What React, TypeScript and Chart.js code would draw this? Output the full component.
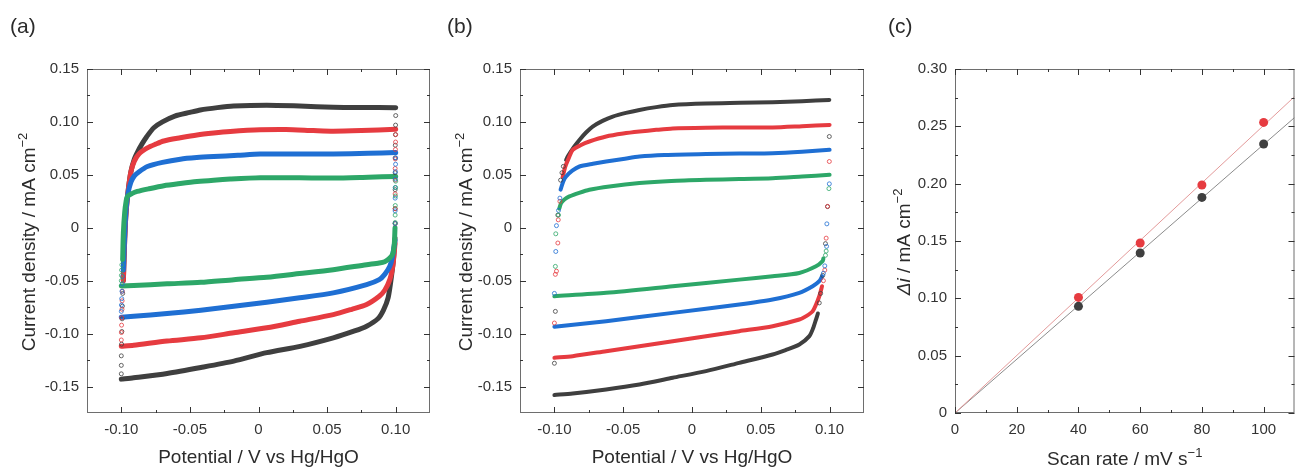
import React, { useEffect, useRef } from 'react';
import { Chart, registerables } from 'chart.js';

Chart.register(...registerables);

const FONT = '"Liberation Sans", Arial, Helvetica, sans-serif';
const TEXT_COLOR = '#2b2b2b';
const TICK_COLOR = '#333333';
const FRAME_COLOR = '#6e6e6e';

const COL_BLACK = '#3f3f3f';
const COL_RED = '#e63b40';
const COL_BLUE = '#1f6fd3';
const COL_GREEN = '#2da768';

// ---------- Panel (a) ----------
const A_BLACK_UP = [[-0.0985,-0.05],[-0.0975,-0.01],[-0.0965,0.015],[-0.095,0.035],[-0.093,0.053],[-0.0905,0.065],[-0.088,0.072],[-0.085,0.079],[-0.0815,0.086],[-0.0763,0.0945],[-0.07,0.1],[-0.061,0.1055],[-0.05,0.109],[-0.0424,0.1113],[-0.03,0.1135],[-0.0182,0.115],[0.006,0.1158],[0.03,0.115],[0.0545,0.1139],[0.075,0.1136],[0.1,0.1135]];
const A_RED_UP = [[-0.0985,-0.05],[-0.0975,-0.01],[-0.0965,0.015],[-0.095,0.035],[-0.093,0.053],[-0.0905,0.063],[-0.087,0.07],[-0.081,0.0755],[-0.075,0.079],[-0.069,0.082],[-0.057,0.085],[-0.0448,0.0877],[-0.0327,0.0895],[-0.0206,0.0909],[0.0012,0.0925],[0.02,0.0928],[0.04,0.0918],[0.0545,0.0912],[0.075,0.0918],[0.1,0.0931]];
const A_BLUE_UP = [[-0.0985,-0.04],[-0.0975,-0.005],[-0.0965,0.018],[-0.095,0.033],[-0.093,0.043],[-0.0905,0.049],[-0.087,0.053],[-0.081,0.0579],[-0.07,0.0618],[-0.057,0.0648],[-0.045,0.0663],[-0.0327,0.0673],[-0.015,0.0685],[0.0012,0.0696],[0.03,0.0697],[0.0545,0.0698],[0.08,0.0703],[0.1,0.0711]];
const A_GREEN_UP = [[-0.099,-0.03],[-0.0985,-0.005],[-0.0975,0.015],[-0.0965,0.025],[-0.0956,0.0296],[-0.092,0.0325],[-0.0884,0.0343],[-0.08,0.0368],[-0.069,0.0397],[-0.057,0.0418],[-0.0448,0.0437],[-0.0327,0.045],[-0.0206,0.046],[0.0012,0.0472],[0.03,0.0472],[0.0545,0.047],[0.08,0.0478],[0.1,0.0485]];

const A_BLACK_DOWN = [[0.0995,-0.01],[0.0985,-0.028],[0.097,-0.045],[0.0945,-0.066],[0.091,-0.078],[0.087,-0.086],[0.0788,-0.093],[0.07,-0.0975],[0.0545,-0.104],[0.0303,-0.112],[0.006,-0.118],[-0.018,-0.126],[-0.042,-0.132],[-0.0666,-0.1376],[-0.091,-0.1417],[-0.1,-0.143]];
const A_RED_DOWN = [[0.0995,-0.015],[0.098,-0.035],[0.0957,-0.049],[0.092,-0.059],[0.088,-0.0647],[0.0788,-0.0725],[0.068,-0.077],[0.0545,-0.082],[0.03,-0.0883],[0.006,-0.0945],[-0.018,-0.0992],[-0.042,-0.104],[-0.0666,-0.107],[-0.091,-0.111],[-0.1,-0.112]];
const A_BLUE_DOWN = [[0.0995,-0.012],[0.0975,-0.028],[0.0957,-0.0364],[0.092,-0.044],[0.088,-0.049],[0.0788,-0.0537],[0.0545,-0.0615],[0.03,-0.0662],[0.006,-0.0703],[-0.018,-0.0741],[-0.042,-0.0779],[-0.0666,-0.0811],[-0.091,-0.0836],[-0.1,-0.0845]];
const A_GREEN_DOWN = [[0.0995,0.0],[0.099,-0.015],[0.098,-0.024],[0.0957,-0.0286],[0.092,-0.032],[0.088,-0.0333],[0.0788,-0.0349],[0.0545,-0.0396],[0.03,-0.0433],[0.006,-0.0468],[-0.018,-0.049],[-0.042,-0.0515],[-0.0666,-0.053],[-0.091,-0.0546],[-0.1,-0.055]];

const A_BLACK_DOTS = [[-0.1,-0.138],[-0.1,-0.13],[-0.1,-0.121],[-0.0998,-0.11],[-0.0996,-0.098],[-0.0994,-0.086],[-0.0992,-0.074],[-0.099,-0.062],[0.1,0.106],[0.0999,0.097],[0.0998,0.088],[0.0997,0.078],[0.0996,0.066],[0.0996,0.052],[0.0996,0.036],[0.0996,0.018],[0.0996,0.004]];
const A_RED_DOTS = [[-0.1,-0.106],[-0.0999,-0.099],[-0.0998,-0.092],[-0.0997,-0.085],[-0.0995,-0.077],[-0.0994,-0.069],[-0.0992,-0.06],[0.1,0.088],[0.0999,0.081],[0.0998,0.074],[0.0997,0.065],[0.0996,0.056],[0.0996,0.045],[0.0996,0.032],[0.0996,0.018],[0.0996,0.004]];
const A_BLUE_DOTS = [[-0.1,-0.079],[-0.0999,-0.073],[-0.0997,-0.067],[-0.0995,-0.06],[-0.0993,-0.053],[-0.0991,-0.046],[0.1,0.066],[0.0999,0.06],[0.0998,0.053],[0.0997,0.046],[0.0996,0.038],[0.0996,0.028],[0.0996,0.016],[0.0996,0.004]];
const A_GREEN_DOTS = [[-0.1,-0.05],[-0.0999,-0.045],[-0.0998,-0.04],[-0.0996,-0.035],[0.1,0.044],[0.0999,0.038],[0.0998,0.03],[0.0997,0.021],[0.0996,0.012],[0.0996,0.005]];

// ---------- Panel (b) ----------
const B_BLACK_UP = [[-0.0915,0.064],[-0.0903,0.0673],[-0.086,0.076],[-0.0818,0.083],[-0.077,0.09],[-0.0722,0.0956],[-0.065,0.101],[-0.0576,0.105],[-0.048,0.1085],[-0.0382,0.1113],[-0.026,0.114],[-0.014,0.116],[0.0102,0.1174],[0.035,0.118],[0.0586,0.1186],[0.08,0.1195],[0.0998,0.1208]];
const B_RED_UP = [[-0.094,0.048],[-0.092,0.058],[-0.0895,0.066],[-0.0867,0.0736],[-0.081,0.078],[-0.0746,0.0815],[-0.0624,0.0862],[-0.05,0.089],[-0.0382,0.0909],[-0.026,0.0925],[-0.014,0.0938],[0.01,0.0945],[0.0344,0.0947],[0.0586,0.0948],[0.08,0.096],[0.1,0.0972]];
const B_BLUE_UP = [[-0.0955,0.036],[-0.0935,0.044],[-0.0915,0.0485],[-0.087,0.054],[-0.0818,0.0579],[-0.072,0.0605],[-0.0624,0.0626],[-0.05,0.065],[-0.0382,0.0673],[-0.02,0.0688],[0.0102,0.0698],[0.0344,0.0702],[0.0586,0.0705],[0.08,0.0718],[0.1,0.0736]];
const B_GREEN_UP = [[-0.0965,0.018],[-0.0951,0.0233],[-0.0925,0.027],[-0.0891,0.0296],[-0.082,0.033],[-0.0746,0.0359],[-0.06,0.039],[-0.0382,0.0422],[-0.015,0.0442],[0.0102,0.0453],[0.0344,0.046],[0.0586,0.0469],[0.08,0.0485],[0.1,0.05]];

const B_BLACK_DOWN = [[0.0915,-0.081],[0.0901,-0.0867],[0.088,-0.095],[0.0853,-0.1024],[0.078,-0.1103],[0.068,-0.1155],[0.0586,-0.1197],[0.0344,-0.1276],[0.0102,-0.1354],[-0.014,-0.1417],[-0.0382,-0.148],[-0.0624,-0.1527],[-0.0867,-0.1565],[-0.1,-0.158]];
const B_RED_DOWN = [[0.0945,-0.0553],[0.0925,-0.0647],[0.09,-0.073],[0.0877,-0.0789],[0.083,-0.0835],[0.078,-0.0867],[0.0586,-0.093],[0.0344,-0.0977],[0.0102,-0.1024],[-0.014,-0.1072],[-0.0382,-0.1119],[-0.0624,-0.1166],[-0.0867,-0.1213],[-0.1,-0.1228]];
const B_BLUE_DOWN = [[0.0945,-0.046],[0.0925,-0.0505],[0.0877,-0.0553],[0.078,-0.0615],[0.0586,-0.0678],[0.0344,-0.0725],[-0.014,-0.0804],[-0.0624,-0.0883],[-0.1,-0.0936]];
const B_GREEN_DOWN = [[0.0955,-0.029],[0.0949,-0.0315],[0.0901,-0.0364],[0.078,-0.0427],[0.0586,-0.0459],[0.0344,-0.049],[-0.014,-0.0553],[-0.0624,-0.0615],[-0.1,-0.0647]];

const B_BLACK_DOTS = [[-0.1,-0.128],[-0.0993,-0.079],[-0.0975,0.012],[-0.0955,0.045],[-0.0945,0.052],[-0.0935,0.058],[0.0998,0.0862],[0.0985,0.02],[0.097,-0.015],[0.095,-0.045],[0.0935,-0.062],[0.0925,-0.071]];
const B_RED_DOTS = [[-0.1,-0.09],[-0.0993,-0.044],[-0.0985,-0.041],[-0.0975,-0.0144],[-0.0972,0.0075],[-0.096,0.025],[0.0998,0.0626],[0.0985,0.0202],[0.0975,-0.0098],[0.0965,-0.04],[0.0955,-0.05]];
const B_BLUE_DOTS = [[-0.1,-0.062],[-0.099,-0.0224],[-0.0985,0.002],[-0.097,0.0164],[-0.096,0.028],[0.0998,0.0415],[0.098,0.0037],[0.0978,-0.0176],[0.0965,-0.036],[0.0955,-0.043]];
const B_GREEN_DOTS = [[-0.0993,-0.0365],[-0.099,-0.0057],[-0.097,0.012],[0.0995,0.037],[0.0975,-0.022],[0.097,-0.026]];

// ---------- Panel (c) ----------
const C_SCAN_RATE = [40, 60, 80, 100];
const C_RED_DI = [0.1008, 0.1483, 0.1988, 0.2534];
const C_BLACK_DI = [0.093, 0.1395, 0.188, 0.2346];

// ---------- Ticks ----------
const CV_X_TICKS = [-0.1, -0.05, 0, 0.05, 0.1];
const CV_X_MINOR = [-0.075, -0.025, 0.025, 0.075];
const CV_Y_TICKS = [-0.15, -0.1, -0.05, 0, 0.05, 0.1, 0.15];
const CV_Y_MINOR = [-0.125, -0.075, -0.025, 0.025, 0.075, 0.125];
const C_X_TICKS = [0, 20, 40, 60, 80, 100];
const C_X_MINOR = [10, 30, 50, 70, 90];
const C_Y_TICKS = [0, 0.05, 0.1, 0.15, 0.2, 0.25, 0.3];
const C_Y_MINOR = [0.025, 0.075, 0.125, 0.175, 0.225, 0.275];

const CV_X_MIN = -0.125, CV_X_MAX = 0.125, CV_Y_MIN = -0.175, CV_Y_MAX = 0.15;
const C_X_MIN = 0, C_X_MAX = 110, C_Y_MIN = 0, C_Y_MAX = 0.3;

const H = 470;
const AREA_TOP = 69;
const AREA_BOTTOM = 413;

type Seg = { t: string; italic?: boolean; sup?: boolean };

function drawRich(ctx: CanvasRenderingContext2D, segs: Seg[], size: number) {
  let total = 0;
  const parts = segs.map((s) => {
    const fs = s.sup ? Math.round(size * 0.66) : size;
    const font = `${s.italic ? 'italic ' : ''}${fs}px ${FONT}`;
    ctx.font = font;
    const w = ctx.measureText(s.t).width;
    total += w;
    return { ...s, font, w };
  });
  let x = -total / 2;
  ctx.textAlign = 'left';
  ctx.textBaseline = 'alphabetic';
  for (const p of parts) {
    ctx.font = p.font;
    ctx.fillText(p.t, x, p.sup ? -size * 0.42 : 0);
    x += p.w;
  }
}

const decorPlugin = {
  id: 'decor',
  afterDraw(chart: any, _args: any, opts: any) {
    const { ctx, chartArea: a, scales } = chart;
    const xs = scales.x, ys = scales.y;
    ctx.save();
    ctx.strokeStyle = FRAME_COLOR;
    ctx.lineWidth = 1;
    ctx.strokeRect(a.left + 0.5, a.top + 0.5, a.right - a.left - 1, a.bottom - a.top - 1);
    ctx.strokeStyle = TICK_COLOR;
    ctx.beginPath();
    const tx = (vals: number[], len: number) => {
      for (const v of vals) {
        const p = Math.round(xs.getPixelForValue(v)) + 0.5;
        ctx.moveTo(p, a.bottom); ctx.lineTo(p, a.bottom - len);
        ctx.moveTo(p, a.top); ctx.lineTo(p, a.top + len);
      }
    };
    const ty = (vals: number[], len: number) => {
      for (const v of vals) {
        const p = Math.round(ys.getPixelForValue(v)) + 0.5;
        ctx.moveTo(a.left, p); ctx.lineTo(a.left + len, p);
        ctx.moveTo(a.right, p); ctx.lineTo(a.right - len, p);
      }
    };
    tx(opts.xMajor, 6); tx(opts.xMinor, 3);
    ty(opts.yMajor, 6); ty(opts.yMinor, 3);
    ctx.stroke();
    ctx.fillStyle = TEXT_COLOR;
    ctx.save();
    ctx.translate((a.left + a.right) / 2, opts.xTitleBaseline);
    drawRich(ctx, opts.xTitle, 19);
    ctx.restore();
    ctx.save();
    ctx.translate(opts.yTitleX, opts.yTitleCenter);
    ctx.rotate(-Math.PI / 2);
    drawRich(ctx, opts.yTitle, 19);
    ctx.restore();
    ctx.font = `21px ${FONT}`;
    ctx.textAlign = 'left';
    ctx.textBaseline = 'alphabetic';
    ctx.fillText(opts.label, opts.labelX, 32.5);
    ctx.restore();
  },
};

const toXY = (arr: number[][]) => arr.map(([x, y]) => ({ x, y }));

function band(data: number[][], color: string, width: number, order: number) {
  return {
    data: toXY(data),
    showLine: true,
    borderColor: color,
    backgroundColor: color,
    borderWidth: width,
    borderCapStyle: 'round',
    borderJoinStyle: 'round',
    pointRadius: 0,
    tension: 0.25,
    order,
  };
}

function dots(data: number[][], color: string, order: number) {
  return {
    data: toXY(data),
    showLine: false,
    pointStyle: 'circle',
    pointRadius: 2,
    pointBorderWidth: 0.8,
    pointBorderColor: color,
    pointBackgroundColor: 'rgba(255,255,255,0)',
    order,
  };
}

const fmtCV = (v: number) => (Math.abs(v) < 1e-9 ? '0' : v.toFixed(2));

function makeConfig(p: any) {
  return {
    type: 'scatter',
    data: { datasets: p.datasets },
    options: {
      responsive: false,
      animation: false,
      events: [],
      layout: { padding: { left: 0, top: AREA_TOP, right: p.width - p.areaRight, bottom: 0 } },
      plugins: {
        legend: { display: false },
        tooltip: { enabled: false },
        decor: {
          xMajor: p.xTicks, xMinor: p.xMinor, yMajor: p.yTicks, yMinor: p.yMinor,
          xTitle: p.xTitle, yTitle: p.yTitle,
          xTitleBaseline: p.xTitleBaseline, yTitleX: p.yTitleX, yTitleCenter: p.yTitleCenter,
          label: p.label, labelX: p.labelX,
        },
      },
      scales: {
        x: {
          type: 'linear',
          min: p.xMin, max: p.xMax,
          grid: { display: false, drawTicks: false },
          border: { display: false },
          afterBuildTicks: (s: any) => { s.ticks = p.xTicks.map((v: number) => ({ value: v })); },
          afterFit: (s: any) => { s.height = H - AREA_BOTTOM; },
          ticks: {
            padding: 8, autoSkip: false, maxRotation: 0,
            color: TICK_COLOR, font: { family: FONT, size: 15 },
            callback: p.xFmt,
          },
        },
        y: {
          type: 'linear',
          min: p.yMin, max: p.yMax,
          grid: { display: false, drawTicks: false },
          border: { display: false },
          afterBuildTicks: (s: any) => { s.ticks = p.yTicks.map((v: number) => ({ value: v })); },
          afterFit: (s: any) => { s.width = p.areaLeft; },
          ticks: {
            padding: 8, autoSkip: false,
            color: TICK_COLOR, font: { family: FONT, size: 15 },
            callback: p.yFmt,
          },
        },
      },
    },
    plugins: [decorPlugin],
  };
}

function ChartCanvas({ left, width, config }: { left: number; width: number; config: () => any }) {
  const ref = useRef<HTMLCanvasElement>(null);
  useEffect(() => {
    const chart = new Chart(ref.current as HTMLCanvasElement, config());
    return () => chart.destroy();
  }, []);
  return (
    <canvas
      ref={ref}
      width={width}
      height={H}
      style={{ position: 'absolute', left, top: 0, width, height: H }}
    />
  );
}

const POT_TITLE: Seg[] = [{ t: 'Potential / V vs Hg/HgO' }];
const CD_TITLE: Seg[] = [{ t: 'Current density / mA cm' }, { t: '\u22122', sup: true }];

function cvDatasets(set: any, bandWidth: number) {
  return [
    band(set.blackUp, COL_BLACK, bandWidth, 13), band(set.blackDown, COL_BLACK, bandWidth, 13),
    band(set.redUp, COL_RED, bandWidth, 12), band(set.redDown, COL_RED, bandWidth, 12),
    band(set.blueUp, COL_BLUE, bandWidth, 11), band(set.blueDown, COL_BLUE, bandWidth, 11),
    band(set.greenUp, COL_GREEN, bandWidth, 10), band(set.greenDown, COL_GREEN, bandWidth, 10),
    dots(set.blackDots, COL_BLACK, 4), dots(set.redDots, COL_RED, 3),
    dots(set.blueDots, COL_BLUE, 2), dots(set.greenDots, COL_GREEN, 1),
  ];
}

const configA = () => makeConfig({
  width: 440, areaLeft: 87, areaRight: 430,
  datasets: cvDatasets({
    blackUp: A_BLACK_UP, blackDown: A_BLACK_DOWN, redUp: A_RED_UP, redDown: A_RED_DOWN,
    blueUp: A_BLUE_UP, blueDown: A_BLUE_DOWN, greenUp: A_GREEN_UP, greenDown: A_GREEN_DOWN,
    blackDots: A_BLACK_DOTS, redDots: A_RED_DOTS, blueDots: A_BLUE_DOTS, greenDots: A_GREEN_DOTS,
  }, 5),
  xMin: CV_X_MIN, xMax: CV_X_MAX, yMin: CV_Y_MIN, yMax: CV_Y_MAX,
  xTicks: CV_X_TICKS, xMinor: CV_X_MINOR, yTicks: CV_Y_TICKS, yMinor: CV_Y_MINOR,
  xFmt: fmtCV, yFmt: fmtCV,
  xTitle: POT_TITLE, yTitle: CD_TITLE,
  xTitleBaseline: 463, yTitleX: 35, yTitleCenter: 242,
  label: '(a)', labelX: 10,
});

const configB = () => makeConfig({
  width: 440, areaLeft: 80, areaRight: 424,
  datasets: cvDatasets({
    blackUp: B_BLACK_UP, blackDown: B_BLACK_DOWN, redUp: B_RED_UP, redDown: B_RED_DOWN,
    blueUp: B_BLUE_UP, blueDown: B_BLUE_DOWN, greenUp: B_GREEN_UP, greenDown: B_GREEN_DOWN,
    blackDots: B_BLACK_DOTS, redDots: B_RED_DOTS, blueDots: B_BLUE_DOTS, greenDots: B_GREEN_DOTS,
  }, 4),
  xMin: CV_X_MIN, xMax: CV_X_MAX, yMin: CV_Y_MIN, yMax: CV_Y_MAX,
  xTicks: CV_X_TICKS, xMinor: CV_X_MINOR, yTicks: CV_Y_TICKS, yMinor: CV_Y_MINOR,
  xFmt: fmtCV, yFmt: fmtCV,
  xTitle: POT_TITLE, yTitle: CD_TITLE,
  xTitleBaseline: 463, yTitleX: 32, yTitleCenter: 242,
  label: '(b)', labelX: 7,
});

function fitSlope(xs: number[], ys: number[]) {
  let sxy = 0, sxx = 0;
  xs.forEach((x, i) => { sxy += x * ys[i]; sxx += x * x; });
  return sxy / sxx;
}

const configC = () => {
  const kRed = fitSlope(C_SCAN_RATE, C_RED_DI);
  const kBlack = fitSlope(C_SCAN_RATE, C_BLACK_DI);
  const pts = (ys: number[]) => C_SCAN_RATE.map((x, i) => ({ x, y: ys[i] }));
  const fit = (k: number) => [{ x: C_X_MIN, y: k * C_X_MIN }, { x: C_X_MAX, y: k * C_X_MAX }];
  const datasets = [
    { data: fit(kRed), showLine: true, borderColor: '#e39a9a', borderWidth: 1, pointRadius: 0, order: 3 },
    { data: fit(kBlack), showLine: true, borderColor: '#8c8c8c', borderWidth: 1, pointRadius: 0, order: 4 },
    { data: pts(C_RED_DI), showLine: false, pointRadius: 4.5, pointBorderWidth: 0, pointBackgroundColor: COL_RED, order: 1 },
    { data: pts(C_BLACK_DI), showLine: false, pointRadius: 4.5, pointBorderWidth: 0, pointBackgroundColor: COL_BLACK, order: 2 },
  ];
  return makeConfig({
    width: 419, areaLeft: 75, areaRight: 418,
    datasets,
    xMin: C_X_MIN, xMax: C_X_MAX, yMin: C_Y_MIN, yMax: C_Y_MAX,
    xTicks: C_X_TICKS, xMinor: C_X_MINOR, yTicks: C_Y_TICKS, yMinor: C_Y_MINOR,
    xFmt: (v: number) => String(v), yFmt: fmtCV,
    xTitle: [{ t: 'Scan rate / mV s' }, { t: '\u22121', sup: true }],
    yTitle: [{ t: '\u0394i', italic: true }, { t: ' / mA cm' }, { t: '\u22122', sup: true }],
    xTitleBaseline: 465, yTitleX: 30, yTitleCenter: 242,
    label: '(c)', labelX: 8,
  });
};

export default function App() {
  return (
    <div style={{ position: 'absolute', left: 0, top: 0, width: 1299, height: H, background: '#ffffff', overflow: 'hidden' }}>
      <ChartCanvas left={0} width={440} config={configA} />
      <ChartCanvas left={440} width={440} config={configB} />
      <ChartCanvas left={880} width={419} config={configC} />
    </div>
  );
}
